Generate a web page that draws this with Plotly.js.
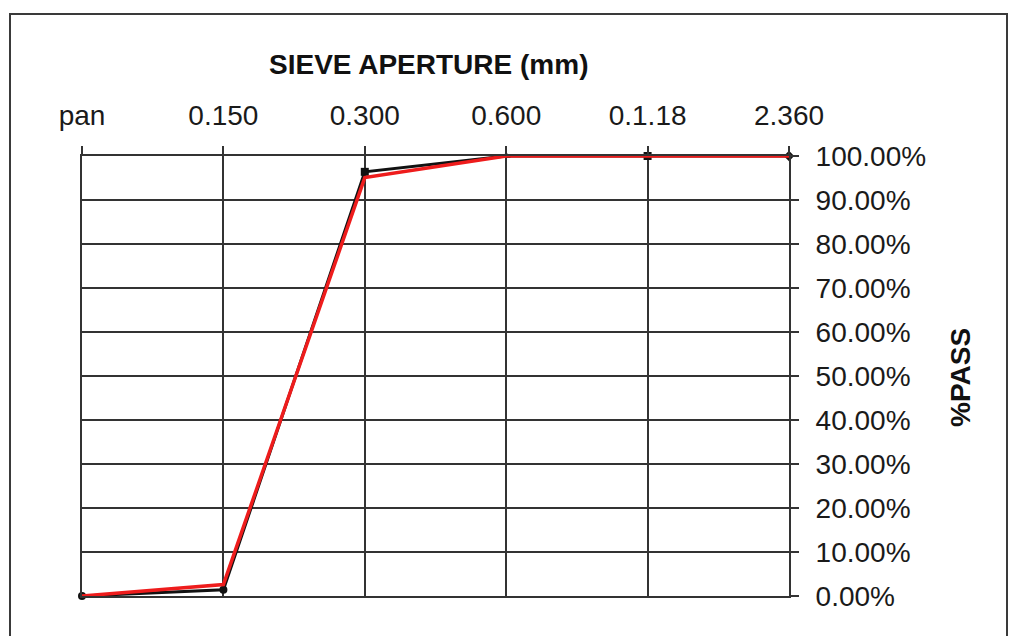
<!DOCTYPE html>
<html>
<head>
<meta charset="utf-8">
<script src="https://cdn.plot.ly/plotly-3.0.1.min.js"></script>
<style>
  html, body { margin: 0; padding: 0; background: #fff; }
  #chart { width: 1014px; height: 636px; }
</style>
</head>
<body>
<div id="chart"></div>
<script>
// Data
const sieveLabels = ['pan', '0.150', '0.300', '0.600', '0.1.18', '2.360'];
const passSeriesA = [0.000, 0.014, 0.964, 1.000, 1.000, 1.000];   // black line with markers
const passSeriesB = [0.000, 0.026, 0.951, 1.000, 1.000, 1.000];   // red line
const yTickValues = [0, 0.1, 0.2, 0.3, 0.4, 0.5, 0.6, 0.7, 0.8, 0.9, 1.0];

const FONT = '"Liberation Sans", Arial, sans-serif';
const GRID = '#333333';

const traces = [
  {
    x: sieveLabels,
    y: passSeriesA,
    type: 'scatter',
    mode: 'lines+markers',
    line: { color: '#111111', width: 3 },
    marker: { color: '#111111', size: 8,
      symbol: ['circle', 'circle', 'square', 'triangle-up', 'square', 'diamond'] },
    cliponaxis: false,
    hoverinfo: 'x+y',
    showlegend: false
  },
  {
    x: sieveLabels,
    y: passSeriesB,
    type: 'scatter',
    mode: 'lines',
    line: { color: '#ee1c1c', width: 3.5 },
    cliponaxis: false,
    hoverinfo: 'x+y',
    showlegend: false
  }
];

const layout = {
  width: 1014,
  height: 636,
  margin: { l: 82, r: 225, t: 156, b: 40 },
  paper_bgcolor: '#ffffff',
  plot_bgcolor: '#ffffff',
  font: { family: FONT, size: 28, color: '#1a1a1a' },
  xaxis: {
    type: 'category',
    side: 'top',
    range: [0, 5],
    showgrid: true,
    gridcolor: GRID,
    gridwidth: 2,
    ticks: 'outside',
    ticklen: 8,
    tickwidth: 2,
    tickcolor: GRID,
    ticklabelstandoff: 10,
    showline: true,
    mirror: true,
    linecolor: GRID,
    linewidth: 2,
    zeroline: false,
    tickfont: { family: FONT, size: 28, color: '#1a1a1a' },
    fixedrange: true
  },
  yaxis: {
    side: 'right',
    range: [0, 1],
    tickvals: yTickValues,
    tickformat: '.2%',
    showgrid: true,
    gridcolor: GRID,
    gridwidth: 2,
    ticks: 'outside',
    ticklen: 8,
    tickwidth: 2,
    tickcolor: GRID,
    ticklabelstandoff: 11,
    showline: true,
    mirror: true,
    linecolor: GRID,
    linewidth: 2,
    zeroline: false,
    tickfont: { family: FONT, size: 28, color: '#1a1a1a' },
    fixedrange: true
  },
  annotations: [
    {
      text: '<b>SIEVE APERTURE (mm)</b>',
      xref: 'paper', yref: 'paper',
      x: (428 - 82) / 707, y: (596 - 64) / 440,
      xanchor: 'center', yanchor: 'middle',
      showarrow: false,
      font: { family: FONT, size: 28, color: '#111111' }
    },
    {
      text: '<b>%PASS</b>',
      xref: 'paper', yref: 'paper',
      x: (960 - 82) / 707, y: (596 - 378) / 440,
      xanchor: 'center', yanchor: 'middle',
      textangle: -90,
      showarrow: false,
      font: { family: FONT, size: 28, color: '#111111' }
    }
  ],
  shapes: [
    {
      type: 'rect',
      xref: 'paper', yref: 'paper',
      x0: (10 - 82) / 707, x1: (1007 - 82) / 707,
      y0: (596 - 660) / 440, y1: (596 - 14) / 440,
      line: { color: '#3a3a3a', width: 2 },
      fillcolor: 'rgba(0,0,0,0)',
      layer: 'below'
    }
  ]
};

Plotly.newPlot('chart', traces, layout, { displayModeBar: false, staticPlot: true });
</script>
</body>
</html>
